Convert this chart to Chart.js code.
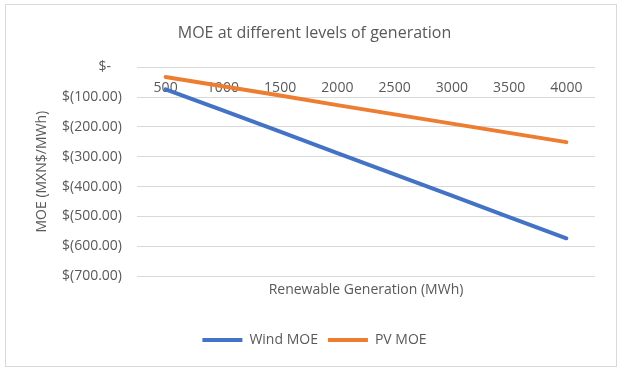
<!DOCTYPE html>
<html>
<head>
<meta charset="utf-8">
<script src="https://cdn.jsdelivr.net/npm/chart.js@4/dist/chart.umd.min.js"></script>
<style>
  html, body { margin: 0; padding: 0; background: #fff; }
  #marco { position: absolute; left: 5px; top: 4px; width: 610px; height: 361px; border: 1px solid #d9d9d9; }
  #caja { position: absolute; left: 0; top: 0; width: 624px; height: 371px; }
</style>
</head>
<body>
<div id="marco"></div>
<div id="caja"><canvas id="grafico-moe"></canvas></div>
<script>
const generacion = ['500', '1000', '1500', '2000', '2500', '3000', '3500', '4000'];
const moeEolica = [-74, -145, -216, -288, -359, -430, -502, -573];
const moeSolar = [-33, -64, -95, -127, -158, -189, -220, -251];

const grisTexto = '#595959';
const fuente = '"Open Sans", sans-serif';

const ctx = document.getElementById('grafico-moe').getContext('2d');
new Chart(ctx, {
  type: 'line',
  data: {
    labels: generacion,
    datasets: [
      { label: 'Wind MOE', data: moeEolica, borderColor: '#4472c4', backgroundColor: '#4472c4', borderWidth: 4, borderCapStyle: 'round', pointRadius: 0, tension: 0 },
      { label: 'PV MOE', data: moeSolar, borderColor: '#ed7d31', backgroundColor: '#ed7d31', borderWidth: 4, borderCapStyle: 'round', pointRadius: 0, tension: 0 }
    ]
  },
  options: {
    responsive: true,
    maintainAspectRatio: false,
    animation: false,
    layout: { padding: { left: 34, right: 29, top: 0, bottom: 14 } },
    plugins: {
      title: { display: true, text: 'MOE at different levels of generation', color: grisTexto, font: { family: fuente, size: 16, weight: 'normal' }, padding: { top: 24, bottom: 24 } },
      legend: {
        position: 'bottom',
        labels: { usePointStyle: true, pointStyle: 'line', pointStyleWidth: 40, boxHeight: 14, color: grisTexto, font: { family: fuente, size: 14 }, padding: 10 }
      },
      tooltip: { enabled: false }
    },
    scales: {
      x: {
        position: { y: 0 },
        offset: true,
        grid: { display: false, drawTicks: false },
        border: { display: false },
        ticks: { color: grisTexto, font: { family: fuente, size: 14 }, padding: 12, maxRotation: 0 }
      },
      x2: {
        type: 'category',
        labels: generacion,
        position: 'bottom',
        grid: { display: false, drawTicks: false },
        border: { display: false },
        ticks: { display: false },
        title: { display: true, text: 'Renewable Generation (MWh)', color: grisTexto, font: { family: fuente, size: 14 }, padding: { top: 5, bottom: 25 } }
      },
      y: {
        min: -700,
        max: 0,
        grid: { color: '#d9d9d9', drawTicks: false },
        border: { display: false },
        ticks: {
          stepSize: 100,
          color: grisTexto,
          font: { family: fuente, size: 14 },
          padding: 15,
          callback: (v) => v === 0 ? '$-   ' : '$(' + Math.abs(v).toFixed(2) + ')'
        },
        title: { display: true, text: 'MOE (MXN$/MWh)', color: grisTexto, font: { family: fuente, size: 14 }, padding: { top: 0, bottom: 0 } },
        afterFit: (escala) => { escala.width = 103; }
      }
    }
  }
});
</script>
</body>
</html>
